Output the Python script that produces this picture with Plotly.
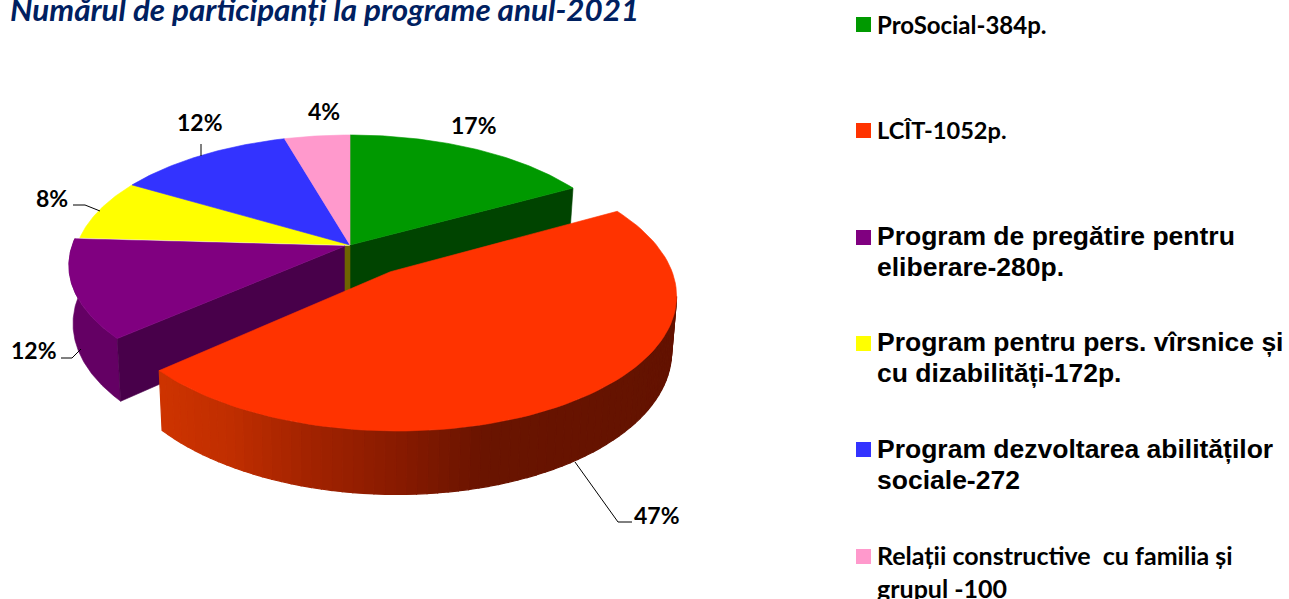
import math
import plotly.graph_objects as go

# ---- data
categories = ["ProSocial", "LCÎT", "Program de pregătire pentru eliberare",
              "Program pentru pers. vîrsnice și cu dizabilități",
              "Program dezvoltarea abilităților sociale",
              "Relații constructive cu familia și grupul"]
values = [384, 1052, 280, 172, 272, 100]
legend_lines = [["ProSocial-384p."], ["LCÎT-1052p."],
                ["Program de pregătire pentru", "eliberare-280p."],
                ["Program pentru pers. vîrsnice și", "cu dizabilități-172p."],
                ["Program dezvoltarea abilităților", "sociale-272"],
                ["Relații constructive  cu familia și", "grupul -100"]]
title_text = "Numărul de participanți la programe anul-2021"

# ---- styles / layout
top_colors = ["#009900", "#FF3300", "#800080", "#FFFF00", "#3333FF", "#FF99CC"]
CX, CY, A, B, K, H = 350, 245, 273, 126.5, 0.15, 52
PULL = 0.25
BOTTOM_X = 0.985
total = sum(values)

def project(u, v, bottom=False):
    d = 1 + K * v
    x = A * u / d
    y = -B * v / d
    if bottom:
        x *= BOTTOM_X
        y += H / d
    return CX + x, CY + y

def point(theta, r=1.0, du=0.0, dv=0.0, bottom=False):
    return project(r * math.sin(theta) + du, r * math.cos(theta) + dv, bottom)

def arc(t0, t1, du=0.0, dv=0.0, bottom=False, n=80):
    return [point(t0 + (t1 - t0) * i / n, 1.0, du, dv, bottom) for i in range(n + 1)]

def shift(points, dx, dy):
    return [(p[0] + dx, p[1] + dy) for p in points]

fig = go.Figure()

def poly(points, color, width=0.6):
    xs = [p[0] for p in points] + [points[0][0]]
    ys = [p[1] for p in points] + [points[0][1]]
    fig.add_trace(go.Scatter(x=xs, y=ys, mode="lines", fill="toself", fillcolor=color,
                             line=dict(color=color, width=width), hoverinfo="skip",
                             showlegend=False))

edges = [0.0]
for val in values:
    edges.append(edges[-1] + val / total * 2 * math.pi)

apex = project(0, 0)
apex_b = project(0, 0, True)

# the purple slice sits a few pixels left of the others
PDX, PDY, PDH = -5, 1, 5
t0, t1 = edges[2], edges[3]
poly(shift(arc(t0, t1), PDX, PDY) + shift(arc(t0, t1, bottom=True), PDX, PDY + PDH)[::-1], "#640064")

# inner walls
poly([apex, point(edges[1]), point(edges[1], bottom=True), apex_b], "#004400")
left_apex = (apex[0] + PDX, apex[1] + PDY)
left_apex_b = (apex_b[0] + PDX, apex_b[1] + PDY + PDH)
poly([left_apex] + shift([point(edges[2])], PDX, PDY) +
     shift([point(edges[2], bottom=True)], PDX, PDY + PDH) + [left_apex_b], "#48004A")
poly([left_apex, (apex[0], apex[1] + 1), apex_b, left_apex_b], "#6E6400")

# tops of the slices that stay in place
poly([left_apex] + shift(arc(edges[2], edges[3]), PDX, PDY), top_colors[2])
for i in [0, 3, 4, 5]:
    poly([apex] + arc(edges[i], edges[i + 1]), top_colors[i])

# pulled-out slice
mid = (edges[1] + edges[2]) / 2
du, dv = PULL * math.sin(mid), PULL * math.cos(mid)
stops = [(150, (208, 52, 0)), (230, (192, 46, 0)), (300, (165, 36, 0)),
         (400, (135, 26, 0)), (480, (106, 20, 0)), (700, (98, 18, 0))]

def wall_color(x):
    for (x0, c0), (x1, c1) in zip(stops, stops[1:]):
        if x <= x1:
            f = max(0.0, (x - x0) / (x1 - x0))
            return "rgb(%d,%d,%d)" % tuple(round(a + (b - a) * f) for a, b in zip(c0, c1))
    return "rgb(98,18,0)"

N = 90
top_arc = arc(edges[1], edges[2], du, dv, n=N)
bot_arc = arc(edges[1], edges[2], du, dv, bottom=True, n=N)
# the wall only shows from the rightmost point of the rim onwards
first_visible = max(range(N + 1), key=lambda j: top_arc[j][0])
for i in range(first_visible, N):
    quad = [top_arc[i], top_arc[i + 1], bot_arc[i + 1], bot_arc[i]]
    poly(quad, wall_color(sum(p[0] for p in quad) / 4), width=1.2)
poly([project(du, dv)] + top_arc, top_colors[1])

# ---- percent labels and leader lines
label_pos = [(474, 125), (657, 515), (34, 350), (52, 198), (200, 122), (324, 111)]
leaders = [None, [(575, 462), (618, 522), (632, 522)], [(61, 358), (72, 358), (81, 349)],
           [(73, 205), (85, 205), (100, 211)], [(201, 144), (201, 156)], None]
annotations = []
for val, (lx, ly), lead in zip(values, label_pos, leaders):
    annotations.append(dict(x=lx, y=ly, text="%d%%" % round(val / total * 100), showarrow=False,
                            xanchor="center", yanchor="middle",
                            font=dict(family="Lato", size=23, color="black", weight="bold")))
    if lead:
        fig.add_trace(go.Scatter(x=[p[0] for p in lead], y=[p[1] for p in lead], mode="lines",
                                 line=dict(color="black", width=1), hoverinfo="skip",
                                 showlegend=False))

# ---- title
annotations.append(dict(x=8, y=9, text="<b><i>%s</i></b>" % title_text, showarrow=False,
                        xanchor="left", yanchor="middle",
                        font=dict(family="Lato", size=31.4, color="#002060")))

# ---- legend
sq_tops = [17, 123, 230, 336, 442, 549]
line_ys = [[24], [130], [236, 267], [342, 373], [449, 480], [555, 588]]
legend_fonts = [("Lato", 24), ("Lato", 23.6), ("Liberation Sans", 26.5), ("Liberation Sans", 26.5),
                ("Liberation Sans", 26.5), ("Lato", 25)]
shapes = []
for color, top, lines, ys, (fam, size) in zip(top_colors, sq_tops, legend_lines, line_ys, legend_fonts):
    shapes.append(dict(type="rect", xref="x", yref="y", x0=856, x1=871, y0=top, y1=top + 15,
                       fillcolor=color, line=dict(width=0)))
    for line, y in zip(lines, ys):
        annotations.append(dict(x=875, y=y, text="<b>%s</b>" % line.replace("  ", "\u00a0\u00a0"),
                                showarrow=False, xanchor="left", yanchor="middle",
                                font=dict(family=fam, size=size, color="black")))

fig.update_layout(width=1289, height=599, margin=dict(l=0, r=0, t=0, b=0),
                  paper_bgcolor="white", plot_bgcolor="white", shapes=shapes,
                  annotations=annotations,
                  xaxis=dict(range=[0, 1289], visible=False, fixedrange=True),
                  yaxis=dict(range=[599, 0], visible=False, fixedrange=True))
fig.write_html("out.html", post_script="document.body.style.margin='0';document.body.style.overflow='hidden';",
               config=dict(displayModeBar=False))
